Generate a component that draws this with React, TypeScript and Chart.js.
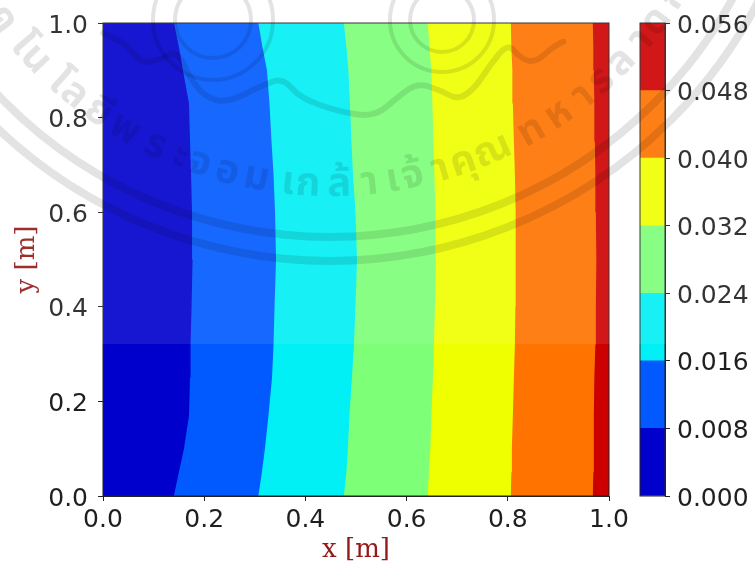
import React, { useEffect, useRef } from "react";
import { Chart, registerables } from "chart.js";

Chart.register(...registerables);

const contourY = [0, 0.05, 0.1, 0.17, 0.25, 0.32, 0.4, 0.5, 0.6, 0.68, 0.75, 0.83, 0.9, 0.95, 1];
const edgeLeft = [0, 0, 0, 0, 0, 0, 0, 0, 0, 0, 0, 0, 0, 0, 0];
const level008 = [0.14, 0.15, 0.16, 0.17, 0.172, 0.173, 0.175, 0.177, 0.176, 0.174, 0.172, 0.17, 0.158, 0.15, 0.14];
const level016 = [0.307, 0.314, 0.32, 0.327, 0.334, 0.337, 0.339, 0.342, 0.34, 0.337, 0.333, 0.329, 0.324, 0.315, 0.307];
const level024 = [0.476, 0.481, 0.484, 0.487, 0.492, 0.496, 0.499, 0.502, 0.499, 0.494, 0.491, 0.488, 0.485, 0.481, 0.476];
const level032 = [0.642, 0.644, 0.647, 0.649, 0.652, 0.654, 0.656, 0.658, 0.657, 0.655, 0.653, 0.651, 0.649, 0.645, 0.642];
const level040 = [0.806, 0.807, 0.808, 0.81, 0.812, 0.814, 0.815, 0.816, 0.815, 0.814, 0.812, 0.81, 0.809, 0.807, 0.806];
const level048 = [0.968, 0.969, 0.97, 0.97, 0.971, 0.973, 0.974, 0.975, 0.974, 0.973, 0.972, 0.971, 0.97, 0.969, 0.968];
const edgeRight = [1, 1, 1, 1, 1, 1, 1, 1, 1, 1, 1, 1, 1, 1, 1];

const bandColors = ["#0000cd", "#005aff", "#00f0f5", "#7dff78", "#f0ff00", "#ff7300", "#cd0000"];
const colorLevels = [0, 0.008, 0.016, 0.024, 0.032, 0.04, 0.048, 0.056];
const axisTicks = [0, 0.2, 0.4, 0.6, 0.8, 1];
const watermarkLead = "เทคโนโลยี";
const watermarkText = "พระจอมเกล้าเจ้าคุณทหารลาดกระบัง";

const FONT = '"DejaVu Sans", sans-serif';
const TITLE_FONT = '"DejaVu Serif", serif';
const TICK_SIZE = 25;
const INK = "#1f1f1f";
const TITLE_RED = "#931a1a";

const frame = {
  id: "frame",
  afterDatasetsDraw(chart: any) {
    const { left, top, width, height } = chart.chartArea;
    const ctx = chart.ctx;
    ctx.save();
    ctx.strokeStyle = "#222";
    ctx.lineWidth = 1;
    ctx.strokeRect(left, top, width, height);
    ctx.restore();
  },
};

const splitClusters = (s: string): string[] =>
  Array.from(new (Intl as any).Segmenter("th", { granularity: "grapheme" }).segment(s)).map((p: any) => p.segment);

const watermark = {
  id: "watermark",
  afterDraw(chart: any) {
    const ctx = chart.ctx;
    const cx = 330;
    const cy = -222;
    const ink = "rgba(0,0,0,0.11)";
    ctx.save();
    ctx.fillStyle = "rgba(255,255,255,0.09)";
    ctx.fillRect(0, 0, 755, 344);
    ctx.strokeStyle = ink;
    ctx.fillStyle = ink;
    ctx.lineWidth = 8;
    ctx.lineCap = "round";
    ctx.lineJoin = "round";
    [459, 483].forEach((r) => {
      ctx.beginPath();
      ctx.arc(cx, cy, r, 0, Math.PI);
      ctx.stroke();
    });
    // ornamental scroll of the seal
    const wave = [[103, 33], [125, 42], [140, 63], [160, 60], [177, 50], [190, 78], [205, 97], [227, 103], [263, 85], [283, 78], [300, 98], [340, 112], [375, 117], [400, 95], [418, 83], [440, 90], [458, 100], [475, 88], [490, 65], [508, 43], [520, 58], [535, 63], [555, 45], [572, 38]];
    ctx.lineWidth = 6;
    ctx.beginPath();
    ctx.moveTo(wave[0][0], wave[0][1]);
    for (let i = 1; i < wave.length - 1; i++) {
      const mx = (wave[i][0] + wave[i + 1][0]) / 2;
      const my = (wave[i][1] + wave[i + 1][1]) / 2;
      ctx.quadraticCurveTo(wave[i][0], wave[i][1], mx, my);
    }
    ctx.stroke();
    ctx.lineWidth = 4;
    [[213, 20, 60], [213, 20, 38], [442, 20, 52], [442, 20, 32]].forEach(([x, y, r]) => {
      ctx.beginPath();
      ctx.arc(x, y, r, 0, Math.PI * 2);
      ctx.stroke();
    });
    // lettering along the arc
    ctx.font = 'bold 40px "Noto Sans Thai", "Noto Sans", "DejaVu Sans", sans-serif';
    ctx.textAlign = "center";
    ctx.textBaseline = "alphabetic";
    const radius = 418;
    const gap = 7;
    const advance = (c: string) => (ctx.measureText(c).width + gap) / radius;
    const lead = splitClusters(watermarkLead);
    const main = splitClusters(watermarkText);
    let angle = 2.1 + lead.reduce((sum, c) => sum + advance(c), 0);
    [...lead, ...main].forEach((c) => {
      ctx.save();
      ctx.translate(cx + radius * Math.cos(angle), cy + radius * Math.sin(angle));
      ctx.rotate(angle - Math.PI / 2);
      ctx.fillText(c, 0, 0);
      ctx.restore();
      angle -= advance(c);
    });
    ctx.restore();
  },
};

export default function App() {
  const mainRef = useRef<HTMLCanvasElement>(null);
  const barRef = useRef<HTMLCanvasElement>(null);

  useEffect(() => {
    const boundaries = [level008, level016, level024, level032, level040, level048, edgeRight];
    const toPoints = (xs: number[]) => xs.map((x, i) => ({ x, y: contourY[i] }));
    const main = new Chart(mainRef.current!, {
      type: "line",
      data: {
        datasets: [
          { data: toPoints(edgeLeft), borderWidth: 0, pointRadius: 0, fill: false },
          ...boundaries.map((xs, i) => ({
            data: toPoints(xs),
            borderWidth: 0,
            pointRadius: 0,
            tension: 0,
            backgroundColor: bandColors[i],
            fill: 0,
          })),
        ],
      },
      options: {
        animation: false,
        responsive: false,
        indexAxis: "y",
        layout: { padding: { left: 0, top: 23, right: 146, bottom: 0 } },
        plugins: { legend: { display: false }, tooltip: { enabled: false } },
        scales: {
          x: {
            type: "linear",
            min: 0,
            max: 1,
            afterBuildTicks: (s: any) => { s.ticks = axisTicks.map((value) => ({ value })); },
            afterFit: (s: any) => { s.height = 70; },
            border: { color: "#222", width: 1 },
            grid: { drawOnChartArea: false, tickLength: 5, tickColor: "#222" },
            ticks: { color: INK, font: { family: FONT, size: TICK_SIZE }, maxRotation: 0, autoSkip: false, padding: 4, callback: (v: any) => Number(v).toFixed(1) },
            title: { display: true, text: "x [m]", color: TITLE_RED, font: { family: TITLE_FONT, size: 26 }, padding: { top: 0, bottom: 0 } },
          },
          y: {
            type: "linear",
            min: 0,
            max: 1,
            afterBuildTicks: (s: any) => { s.ticks = axisTicks.map((value) => ({ value })); },
            afterFit: (s: any) => { s.width = 103; s.paddingTop = 0; s.paddingBottom = 0; },
            border: { color: "#222", width: 1 },
            grid: { drawOnChartArea: false, tickLength: 5, tickColor: "#222" },
            ticks: { color: INK, font: { family: FONT, size: TICK_SIZE }, autoSkip: false, padding: 10, labelOffset: 3, callback: (v: any) => Number(v).toFixed(1) },
            title: { display: true, text: "y [m]", color: TITLE_RED, font: { family: TITLE_FONT, size: 26 }, padding: { top: 12, bottom: 0 } },
          },
        },
      },
      plugins: [frame, watermark],
    } as any);

    const bar = new Chart(barRef.current!, {
      type: "bar",
      data: {
        labels: ["z"],
        datasets: bandColors.map((c, i) => ({
          data: [[colorLevels[i], colorLevels[i + 1]]],
          backgroundColor: c,
          barPercentage: 1,
          categoryPercentage: 1,
          borderWidth: 0,
        })),
      },
      options: {
        animation: false,
        responsive: false,
        layout: { padding: { left: 640, top: 23, right: 0, bottom: 70 } },
        plugins: { legend: { display: false }, tooltip: { enabled: false } },
        scales: {
          x: { stacked: true, display: false },
          y: {
            position: "right",
            min: 0,
            max: 0.056,
            afterBuildTicks: (s: any) => { s.ticks = colorLevels.map((value) => ({ value })); },
            afterFit: (s: any) => { s.width = 90; s.paddingTop = 0; s.paddingBottom = 0; },
            border: { color: "#222", width: 1 },
            grid: { drawOnChartArea: false, tickLength: 5, tickColor: "#222" },
            ticks: { color: INK, font: { family: FONT, size: TICK_SIZE }, autoSkip: false, padding: 7, labelOffset: 3, callback: (v: any) => Number(v).toFixed(3) },
          },
        },
      },
      plugins: [frame],
    } as any);

    return () => {
      main.destroy();
      bar.destroy();
    };
  }, []);

  const layer: React.CSSProperties = { position: "absolute", left: 0, top: 0, display: "block" };
  return (
    <div style={{ position: "fixed", left: 0, top: 0, width: 755, height: 566, background: "#fff", overflow: "hidden" }}>
      <canvas ref={barRef} width={755} height={566} style={layer} />
      <canvas ref={mainRef} width={755} height={566} style={layer} />
    </div>
  );
}
